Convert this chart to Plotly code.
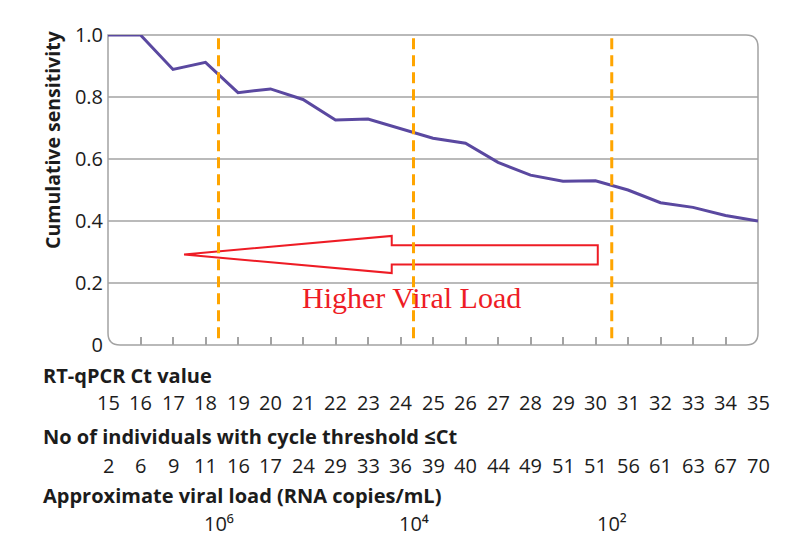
import plotly.graph_objects as go

# chart data
ct_values = [15, 16, 17, 18, 19, 20, 21, 22, 23, 24, 25, 26, 27, 28, 29, 30, 31, 32, 33, 34, 35]
sensitivity = [1.0, 1.0, 0.889, 0.912, 0.814, 0.826, 0.792, 0.726, 0.729, 0.699, 0.667,
               0.651, 0.589, 0.548, 0.528, 0.530, 0.500, 0.459, 0.444, 0.418, 0.400]
n_individuals = [2, 6, 9, 11, 16, 17, 24, 29, 33, 36, 39, 40, 44, 49, 51, 51, 56, 61, 63, 67, 70]
viral_load_ct = [18.4, 24.4, 30.5]
viral_load_labels = ["10⁶", "10⁴", "10²"]
y_ticks = [0, 0.2, 0.4, 0.6, 0.8, 1.0]
y_ticktext = ["0", "0.2", "0.4", "0.6", "0.8", "1.0"]

# page body has an 8px margin, so the figure is 8px smaller and shifted
W, H = 792, 530
M = dict(l=100, r=42, t=27, b=193)
PW = W - M["l"] - M["r"]
PH = H - M["t"] - M["b"]
X0, Y1 = 8 + M["l"], 8 + M["t"] + PH   # screen px of plot left / bottom

GREY = "#a3a3a3"
TXT = "#1c1c1c"
FONT = "Open Sans"


def px_x(px):
    return (px - X0) / PW


def px_y(py):
    return (Y1 - py) / PH


fig = go.Figure()

fig.add_trace(go.Scatter(
    x=ct_values, y=sensitivity, mode="lines",
    line=dict(color="#5a48a0", width=3), hoverinfo="skip", showlegend=False,
))

# rounded plot frame (top-left corner square)
rx, ry = 12 / PW, 12 / PH
frame = (f"M 0,1 L {1-rx},1 Q 1,1 1,{1-ry} L 1,{ry} Q 1,0 {1-rx},0 "
         f"L {rx},0 Q 0,0 0,{ry} Z")
fig.add_shape(type="path", path=frame, xref="paper", yref="paper",
              line=dict(color=GREY, width=1.5), layer="below")

# horizontal grid lines
for yv in y_ticks[1:-1]:
    fig.add_shape(type="line", xref="paper", yref="y", x0=0, x1=1, y0=yv, y1=yv,
                  line=dict(color=GREY, width=1.5), layer="below")

# hollow arrow pointing to higher viral load
tip = (17.34, 0.292)
head_x, head_top, head_bot = 23.73, 0.352, 0.232
shaft_top, shaft_bot, tail_x = 0.322, 0.260, 30.07
arrow = (f"M {tip[0]},{tip[1]} L {head_x},{head_top} L {head_x},{shaft_top} "
         f"L {tail_x},{shaft_top} L {tail_x},{shaft_bot} L {head_x},{shaft_bot} "
         f"L {head_x},{head_bot} Z")
fig.add_shape(type="path", path=arrow, xref="x", yref="y",
              line=dict(color="#ee1c25", width=2))

# orange dashed viral-load markers
for xv in viral_load_ct:
    fig.add_shape(type="line", xref="x", yref="y", x0=xv, x1=xv, y0=0.022, y1=1.006,
                  line=dict(color="#ffa500", width=3, dash="11px,6px"))

fig.add_annotation(x=24.35, y=0.152, xref="x", yref="y", text="Higher Viral Load",
                   showarrow=False, xanchor="center", yanchor="middle",
                   font=dict(family="Liberation Serif", size=30, color="#ee1c25"))

# y-axis title
fig.add_annotation(x=px_x(52), y=px_y(140), xref="paper", yref="paper",
                   text="<b>Cumulative sensitivity</b>",
                   textangle=-90, showarrow=False, xanchor="center", yanchor="middle",
                   font=dict(family=FONT, size=19.5, color=TXT))

# table rows below the axis
titles = [("RT-qPCR Ct value", 375),
          ("No of individuals with cycle threshold ≤Ct", 436.7),
          ("Approximate viral load (RNA copies/mL)", 495)]
for t, py in titles:
    fig.add_annotation(x=px_x(41), y=px_y(py), xref="paper", yref="paper",
                       text=f"<b>{t}</b>", showarrow=False, xanchor="left", yanchor="middle",
                       font=dict(family=FONT, size=20, color=TXT))

for c, n in zip(ct_values, n_individuals):
    fig.add_annotation(x=c, y=px_y(402.7), xref="x", yref="paper", text=str(c),
                       showarrow=False, xanchor="center", yanchor="middle",
                       font=dict(family=FONT, size=20, color=TXT))
    fig.add_annotation(x=c, y=px_y(465), xref="x", yref="paper", text=str(n),
                       showarrow=False, xanchor="center", yanchor="middle",
                       font=dict(family=FONT, size=20, color=TXT))

for xv, lab in zip(viral_load_ct, viral_load_labels):
    fig.add_annotation(x=xv, y=px_y(523), xref="x", yref="paper", text=lab,
                       showarrow=False, xanchor="center", yanchor="middle",
                       font=dict(family=FONT, size=20, color=TXT))

fig.update_xaxes(range=[15, 35], showgrid=False, zeroline=False, showline=False,
                 tickvals=ct_values[1:-1], ticks="inside", ticklen=8, tickwidth=1.5,
                 tickcolor=GREY, showticklabels=False)
fig.update_yaxes(range=[0, 1], showgrid=False, zeroline=False, showline=False,
                 tickvals=y_ticks, ticktext=y_ticktext, ticks="", ticklabelstandoff=4,
                 tickfont=dict(family=FONT, size=20, color=TXT))

fig.update_layout(width=W, height=H, margin=M, plot_bgcolor="white", paper_bgcolor="white",
                  showlegend=False, font=dict(family=FONT, color=TXT))

fig.write_html("out.html")
